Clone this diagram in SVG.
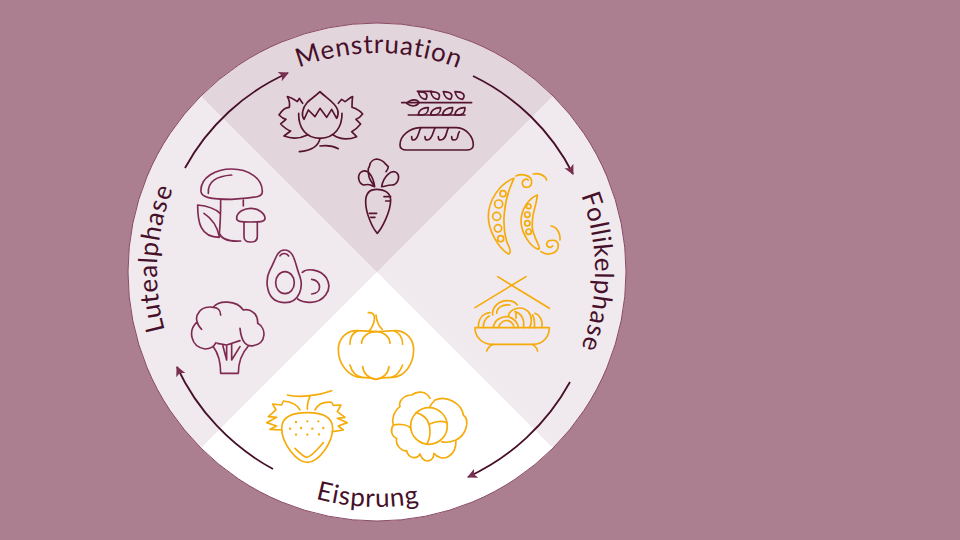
<svg xmlns="http://www.w3.org/2000/svg" width="960" height="540" viewBox="0 0 960 540">
<style>
.lab{font-family:"Lato","Liberation Sans",sans-serif;font-size:26px;fill:#47102a;letter-spacing:.8px;text-anchor:middle}
.arc{fill:none;stroke:#47102a;stroke-width:1.8;marker-end:url(#ah)}
.ic{fill:none;stroke-width:5;stroke-linecap:round;stroke-linejoin:round}
.dk{stroke:#56142f}.bg{stroke:#7f2a52}.or{stroke:#f5ab0a}
.dot{fill:#f5ab0a;stroke:none}
</style>
<defs>
<marker id="ah" markerUnits="userSpaceOnUse" markerWidth="12" markerHeight="12" refX="9" refY="5" orient="auto"><path d="M0 0L10 5L0 10L2.5 5Z" fill="#7a2f50"/></marker>
<path id="tm" d="M159 272A219 219 0 0 1 597 272"/>
<path id="tf" d="M377 54A218 218 0 0 1 377 490"/>
<path id="tl" transform="rotate(3.5 377 272)" d="M377 492A220 220 0 0 1 377 52"/>
<path id="te" transform="rotate(2.3 377 272)" d="M142 272A235 235 0 0 0 612 272"/>
<clipPath id="cc"><circle cx="377" cy="272" r="249"/></clipPath>
</defs>
<rect width="960" height="540" fill="#ab7f90"/>
<g id="wheel">
<g clip-path="url(#cc)">
<rect x="100" y="0" width="560" height="540" fill="#f0e9ed"/>
<path d="M377 272L127 22H627Z" fill="#e3d5dc"/>
<path d="M377 272L127 522H627Z" fill="#fff"/>
</g>
<circle cx="377" cy="272" r="249" fill="none" stroke="#8a4a66" stroke-width="1"/>
</g>
<g id="connectors">
<path class="arc" d="M185 168A218 218 0 0 1 288 73"/>
<path class="arc" d="M473 76A218 218 0 0 1 573 174"/>
<path class="arc" d="M570 382A223 223 0 0 1 468 477"/>
<path class="arc" d="M273 469A223 223 0 0 1 177 367"/>
</g>
<g id="menstruation">
<text class="lab" dx="1"><textPath href="#tm" startOffset="50%">Menstruation</textPath></text>
<g transform="translate(180 20) scale(.3333)" class="ic dk">
<path d="M420 215C405 232 372 245 368 275C366 285 368 292 372 298L385 270L405 290L420 265L440 292L455 268L470 295C476 285 476 280 473 270C465 245 435 232 420 215Z"/>
<path d="M356 280C355 320 375 355 420 355C465 355 487 320 486 280"/>
<path d="M368 250C362 242 360 238 358 235L352 245C342 238 332 232 322 230C328 240 330 250 328 262C318 262 305 272 297 285C302 290 308 296 318 298L302 312C312 322 320 330 332 333L312 348C330 354 352 360 382 345"/>
<path d="M475 250L485 238L495 245C505 238 510 232 518 230C516 242 516 252 516 262C528 266 540 272 548 282C542 290 535 296 528 298L542 312C534 322 526 330 515 335L530 350C510 358 485 362 460 345"/>
<path d="M358 395C390 392 415 382 420 355M420 378C440 375 460 378 475 386"/>
<path d="M712 214H755M665 248H875M685 285H855"/>
<path d="M715 215C740 215 745 225 738 238C725 238 718 228 715 215ZM752 215C778 215 783 225 775 238C762 238 755 228 752 215ZM790 215C815 215 820 225 812 238C800 238 793 228 790 215ZM825 215C850 215 858 225 848 238C836 238 828 228 825 215Z"/>
<path d="M680 250C695 235 712 238 717 248C712 258 695 262 680 250Z"/>
<path d="M715 285C715 270 730 262 745 263C745 275 738 285 725 285ZM752 285C752 270 768 262 782 263C782 275 775 285 762 285ZM788 285C788 270 804 262 818 263C818 275 812 285 798 285ZM825 285C825 270 840 262 855 263C855 275 850 285 835 285Z"/>
<path d="M660 375C660 345 690 325 720 323H830C860 325 880 350 880 375C880 385 870 390 860 390H680C668 390 660 385 660 375Z"/>
<path d="M722 325C715 335 715 360 700 360C695 360 695 352 695 350M765 325C758 335 758 360 742 360C736 360 735 352 735 350M805 325C798 335 800 360 782 360C776 360 775 352 775 350M838 335C830 345 838 360 822 360C816 360 815 352 815 350"/>
<path d="M590 508C570 508 557 520 557 545C557 580 578 625 592 640C606 625 632 575 632 540C632 520 615 508 590 508Z"/>
<path d="M612 530H632M617 543H630M568 580H590M572 592H585"/>
<path d="M584 500C575 485 562 475 565 445C572 440 565 420 590 417C610 418 615 432 625 440C625 445 622 450 618 455M584 500C565 495 575 490 550 495C535 490 530 465 545 455C565 445 580 470 584 500M605 500C610 470 635 445 652 460C662 475 650 495 635 495C620 495 615 500 605 500"/>
</g></g>
<g id="lutealphase">
<text class="lab"><textPath href="#tl" startOffset="50%">Lutealphase</textPath></text>
<g transform="translate(130 150) scale(.3333)" class="ic bg">
<path d="M213 125C210 80 260 57 305 57C355 57 398 85 397 125C397 140 385 143 305 148C240 148 215 142 213 125Z"/>
<path d="M235 130C232 95 260 78 305 75M272 150C272 190 270 230 268 250C275 268 300 275 332 273M340 150V168"/>
<path d="M320 205C320 185 345 175 362 175C385 175 405 190 405 205C405 215 395 216 362 216C330 216 320 215 320 205Z"/>
<path d="M342 216V260C342 272 350 276 362 276C375 276 382 270 382 260V216"/>
<path d="M268 262C210 262 203 215 203 165C235 168 255 175 270 190M222 190C245 205 262 230 268 260"/>
<path d="M463 300C440 300 435 335 420 360C405 390 405 458 465 458C510 458 520 410 510 380C495 345 495 300 463 300Z"/>
<ellipse cx="465" cy="398" rx="28" ry="33"/>
<path d="M450 318C455 308 470 308 476 318M517 367C530 355 570 355 590 385C610 420 580 458 540 457C525 457 510 452 503 447M545 388C575 390 578 430 545 432"/>
<path d="M205 490C215 470 240 470 250 472C265 450 320 450 340 480C360 475 385 490 383 520C410 535 410 580 370 587C350 590 335 580 330 535M272 495C272 480 262 472 250 472M205 490C195 500 200 525 215 538M200 517C175 540 180 590 225 597C240 597 252 590 258 578"/>
<path d="M250 590C265 610 272 640 272 670H325C325 640 335 610 355 588M262 580L290 585L330 572M278 585L290 630V585M305 580V630L330 590"/>
</g></g>
<g id="follikelphase">
<text class="lab"><textPath href="#tf" startOffset="50%">Follikelphase</textPath></text>
<g transform="translate(440 150) scale(.3333)" class="ic or">
<path d="M222 85C180 100 145 150 145 200C145 240 175 295 205 312C215 310 210 295 200 275C185 225 190 150 222 85Z"/>
<circle cx="189" cy="131" r="9"/><circle cx="176" cy="162" r="12"/><circle cx="170" cy="199" r="12"/><circle cx="174" cy="235" r="11"/><circle cx="182" cy="266" r="9"/>
<path d="M292 135C265 145 243 180 243 215C245 250 270 290 295 298C305 295 285 270 278 240C270 200 290 170 292 135Z"/>
<circle cx="266" cy="169" r="7"/><circle cx="262" cy="194" r="8"/><circle cx="262" cy="220" r="8"/><circle cx="266" cy="245" r="8"/>
<path d="M228 78C245 70 275 75 275 95C275 115 250 118 247 100C247 88 260 85 265 90M280 72C295 68 315 75 320 90M333 228C350 230 362 250 360 270M303 305C325 320 355 310 355 285C352 265 322 268 320 282C320 292 332 295 338 288"/>
<path d="M105 473L258 380M173 380L328 475"/>
<path d="M105 533H328C328 560 310 582 280 583H155C125 582 105 560 105 533Z"/>
<path d="M140 603C145 590 155 585 160 583M293 603C290 590 280 585 275 583"/>
<path d="M115 533C115 505 130 490 150 488M130 533C130 515 135 505 148 498M160 533C162 510 185 498 205 500C222 505 235 520 235 533M175 533C180 515 195 510 205 512C215 515 222 525 222 533M205 498C210 475 245 465 265 485C278 500 275 525 268 533M158 495C155 470 180 450 205 452C220 452 228 460 232 465M170 490C170 475 185 462 210 465M283 533C285 515 283 505 278 495M305 533C310 515 300 495 285 490M228 490V505M250 533C255 510 245 490 225 485"/>
</g></g>
<g id="eisprung">
<text class="lab"><textPath href="#te" startOffset="50%">Eisprung</textPath></text>
<g transform="translate(250 300) scale(.3333)" class="ic or">
<path d="M355 38C375 35 375 55 372 65C368 78 362 88 358 92M378 45C380 65 385 78 397 88"/>
<path d="M325 92C290 90 265 115 265 150C265 190 295 232 335 232C350 232 360 232 378 238C395 232 410 232 425 232C465 232 491 190 491 150C491 115 465 90 432 92C410 92 395 95 378 95C360 95 345 92 325 92Z"/>
<path d="M300 133C300 110 310 97 325 92M335 130C335 110 355 95 378 95C400 95 420 110 420 130M458 133C458 110 445 97 432 92M338 200C340 220 355 235 378 238C400 235 415 220 417 200M300 195C305 215 318 228 335 232M458 195C450 215 438 228 425 232"/>
<path d="M112 285C150 295 210 285 245 272M180 290C172 305 172 315 172 328"/>
<path d="M172 338C130 338 95 350 95 385C95 430 140 487 172 487C205 487 248 430 248 385C248 350 215 338 172 338Z"/>
<path d="M135 445C150 460 160 470 170 472C185 470 205 445 220 428"/>
<path d="M150 330C140 310 120 305 100 303L95 315L68 312L78 330L55 350L80 352L50 368L80 378L60 388L95 390M195 330C205 310 225 305 245 307L250 316L273 315L262 335L285 352L262 355L292 368L265 378L280 390L248 395"/>
<g class="dot"><circle cx="138" cy="366" r="3.5"/><circle cx="172" cy="364" r="3.5"/><circle cx="205" cy="364" r="3.5"/><circle cx="120" cy="386" r="3.5"/><circle cx="153" cy="384" r="3.5"/><circle cx="187" cy="386" r="3.5"/><circle cx="220" cy="384" r="3.5"/><circle cx="138" cy="404" r="3.5"/><circle cx="172" cy="404" r="3.5"/><circle cx="207" cy="403" r="3.5"/></g>
<circle cx="537" cy="378" r="55"/>
<path d="M498 338C525 345 540 365 540 395C540 410 535 425 530 433M540 372C555 365 575 362 590 368"/>
<path d="M540 295C530 275 505 270 485 285C460 285 445 305 450 320C430 335 425 360 430 375C420 390 425 410 440 415C435 440 460 455 470 452C475 475 500 480 510 462C520 490 550 490 552 460C575 490 620 470 618 420C650 405 660 360 640 345C635 310 590 285 555 300C550 305 545 310 540 320M430 375C450 370 475 375 482 385M575 425C590 430 605 425 618 420"/>
</g></g>
</svg>
